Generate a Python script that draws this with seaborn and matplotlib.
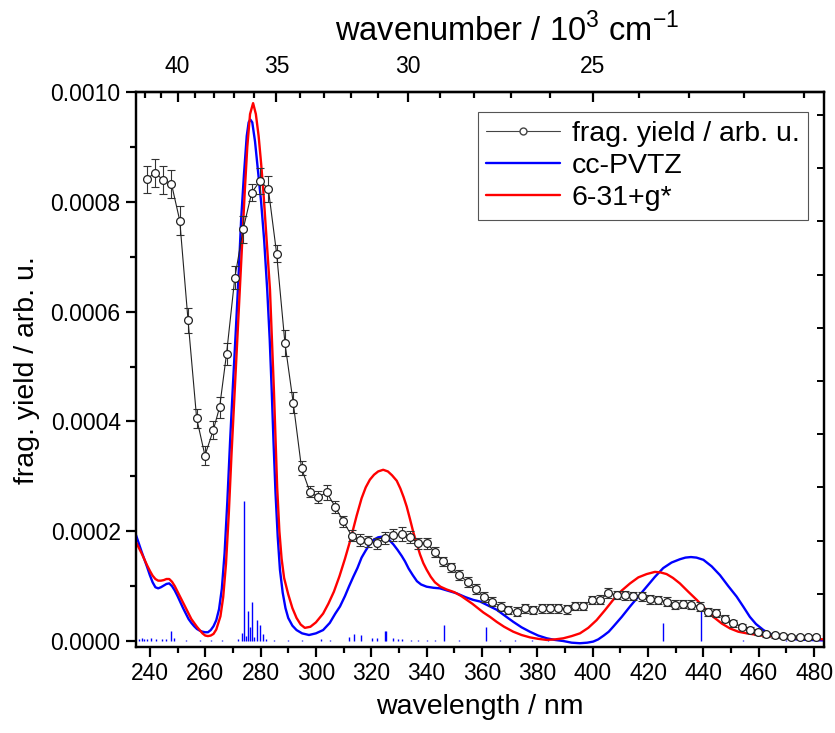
import matplotlib
matplotlib.use("Agg")
import matplotlib.pyplot as plt
import seaborn as sns
import numpy as np
from matplotlib.ticker import MultipleLocator, FixedLocator, FormatStrFormatter, NullFormatter, NullLocator
from matplotlib.lines import Line2D

# ---------------- data ----------------
exp_wl = [238.8, 241.8, 244.8, 247.8, 250.8, 253.8, 256.9, 259.9, 262.9, 265.2,
          267.7, 270.7, 273.7, 276.8, 279.8, 282.8, 285.8, 288.8, 291.8, 294.8,
          297.8, 300.8, 303.9, 306.9, 309.9, 312.9, 315.9, 318.9, 321.9, 324.9,
          327.9, 331.0, 334.0, 337.0, 340.0, 343.0, 345.8, 348.8, 351.8, 354.8,
          357.8, 360.8, 363.8, 366.8, 369.5, 372.5, 375.5, 378.5, 381.6, 384.6,
          387.6, 390.6, 393.6, 396.6, 399.6, 402.6, 405.7, 408.7, 411.7, 414.7,
          417.7, 420.7, 423.7, 426.7, 429.7, 432.7, 435.7, 438.7, 441.7, 444.7,
          447.7, 450.8, 453.8, 456.8, 459.8, 462.8, 465.8, 468.8, 471.8, 474.8,
          477.8, 480.8]
exp_yield = [0.000841, 0.000853, 0.000840, 0.000833, 0.000766, 0.000584, 0.000406, 0.000338, 0.000384, 0.000426,
             0.000523, 0.000662, 0.000750, 0.000817, 0.000838, 0.000824, 0.000706, 0.000543, 0.000434, 0.000315,
             0.000272, 0.000262, 0.000271, 0.000245, 0.000218, 0.000192, 0.000184, 0.000182, 0.000178, 0.000187,
             0.000193, 0.000195, 0.000189, 0.000178, 0.000178, 0.000162, 0.000145, 0.000134, 0.000120, 0.000108,
             0.000095, 0.000080, 0.0000718, 0.0000626, 0.0000566, 0.0000535, 0.0000596, 0.0000566, 0.0000596, 0.0000596,
             0.0000596, 0.0000580, 0.0000639, 0.0000639, 0.0000748, 0.0000755, 0.0000870, 0.0000839, 0.0000830, 0.0000820,
             0.0000815, 0.0000760, 0.0000748, 0.0000718, 0.0000660, 0.0000675, 0.0000660, 0.0000626, 0.0000528, 0.0000517,
             0.0000408, 0.0000322, 0.0000262, 0.0000201, 0.0000164, 0.0000122, 0.0000104, 0.0000091, 0.0000079, 0.0000073,
             0.0000073, 0.0000073]
exp_err = [0.000025, 0.000025, 0.000025, 0.000025, 0.000026, 0.000022, 0.000017, 0.000017, 0.000016, 0.000019,
           0.000020, 0.000021, 0.000025, 0.000016, 0.000024, 0.000024, 0.000016, 0.000024, 0.000019, 0.000013,
           0.000010, 0.000011, 0.000014, 0.000011, 0.000010, 0.000010, 0.000011, 0.000010, 0.000010, 0.000011,
           0.000011, 0.000012, 0.000011, 0.000010, 0.000010, 0.000009, 0.000009, 0.000009, 0.000009, 0.000009,
           0.000009, 0.000009, 0.000008, 0.000008, 0.000008, 0.000008, 0.000008, 0.000008, 0.000008, 0.000008,
           0.000008, 0.000008, 0.000008, 0.000008, 0.000008, 0.000008, 0.000009, 0.000008, 0.000008, 0.000008,
           0.000008, 0.000008, 0.000008, 0.000008, 0.000008, 0.000008, 0.000008, 0.000008, 0.000007, 0.000007,
           0.000006, 0.000006, 0.000005, 0.000005, 0.000005, 0.000004, 0.000004, 0.000004, 0.000004, 0.000004,
           0.000004, 0.000004]

# cc-PVTZ computed spectrum
cc_wl = [235, 236, 237, 238, 239, 240, 241, 242, 243, 244,
         245, 246, 247, 248, 249, 250, 251, 252, 253, 254,
         255, 256, 257, 258, 259, 260, 261, 262, 263, 264,
         265, 266, 267, 268, 269, 270, 271, 272, 273, 274,
         275, 275.7, 276.3, 277, 278, 279, 280.2, 281.3, 282.4, 283.3,
         284, 284.7, 285.4, 286.2, 287, 288, 289, 290, 291.5, 293,
         295, 297.5, 300, 302.6, 305, 307, 308.7, 310.5, 312, 313.5,
         315, 316.5, 318, 319.5, 321, 322.5, 323.8, 325, 326.5, 328,
         329.5, 331, 332.2, 333.5, 335, 336.5, 338, 340, 342.5, 344.8,
         347.5, 350.8, 354, 356.8, 359.3, 362.9, 365.3, 368, 371.3, 374.3,
         377.3, 380.3, 383.4, 386.4, 389.4, 392.4, 395.4, 398, 400.2, 402,
         404, 405.8, 407.4, 410.5, 413.5, 416.5, 419.5, 422.5, 425.5, 428.5,
         431.5, 433.5, 435.5, 437.5, 440, 443, 446, 449, 452, 454.5,
         456.8, 459, 461.7, 464.5, 467.7, 470.5, 473.7, 478, 484]
cc_val = [0.000193, 0.000178, 0.000163, 0.000149, 0.000135, 0.000120, 0.000107, 0.000098, 0.000096, 0.000098,
          0.000101, 0.000104, 0.000105, 0.000100, 0.000092, 0.000082, 0.000071, 0.000060, 0.000050, 0.000040,
          0.000033, 0.000027, 0.000022, 0.000019, 0.000017, 0.000016, 0.000016, 0.000020, 0.000027, 0.000038,
          0.000058, 0.000095, 0.000160, 0.000255, 0.000365, 0.000465, 0.000560, 0.000660, 0.000770, 0.000850,
          0.000920, 0.000945, 0.000950, 0.000945, 0.000910, 0.000860, 0.000800, 0.000730, 0.000640, 0.000550,
          0.000460, 0.000360, 0.000270, 0.000190, 0.000130, 0.000088, 0.000060, 0.000042, 0.000028, 0.000020,
          0.000014, 0.000011, 0.000014, 0.000020, 0.000033, 0.000050, 0.000063, 0.000082, 0.000100, 0.000117,
          0.000133, 0.000152, 0.000165, 0.000177, 0.000185, 0.000189, 0.000190, 0.000189, 0.000184, 0.000176,
          0.000166, 0.000155, 0.000145, 0.000132, 0.000120, 0.000109, 0.000103, 0.000099, 0.000097, 0.000096,
          0.000092, 0.000087, 0.000080, 0.000075, 0.000072, 0.000063, 0.000057, 0.000047, 0.000035, 0.000025,
          0.000017, 0.000010, 0.000005, 0.000002, 0.000000, -0.000003, -0.000004, -0.000003, -0.000001, 0.000003,
          0.000010, 0.000017, 0.000026, 0.000044, 0.000063, 0.000081, 0.000099, 0.000117, 0.000133, 0.000143,
          0.000149, 0.000152, 0.000153, 0.000152, 0.000148, 0.000136, 0.000120, 0.000100, 0.000081, 0.000062,
          0.000044, 0.000031, 0.000020, 0.000012, 0.000008, 0.000005, 0.000003, 0.000002, 0.000001]

# 6-31+g* computed spectrum
g6_wl = [235, 236, 237, 238, 239, 240, 241, 242, 243, 244,
         245, 246, 247, 248, 249, 250, 251, 252, 253, 254,
         255, 256, 257, 258, 259, 260, 261, 262, 263, 264,
         265.5, 266.5, 267.5, 268.5, 269.5, 270.7, 271.6, 272.5, 273.4, 274.3,
         275.2, 276.2, 277.3, 278.3, 279.3, 280.2, 281, 282.2, 283.4, 284.1,
         284.8, 285.4, 286, 286.8, 287.6, 288.5, 290, 291.5, 293, 294.5,
         296, 298, 300, 302.6, 304.5, 306.5, 308.5, 310.5, 312.5, 314.7,
         316.5, 318, 319.5, 321, 322.5, 324.3, 326, 327.5, 329.2, 330.5,
         331.7, 332.8, 334, 335.2, 336.4, 337.6, 338.8, 340, 341.5, 343,
         345, 347.2, 350, 352.5, 354.5, 356.5, 358.5, 360.5, 362.9, 365.3,
         368, 371.3, 374.3, 377.3, 380.3, 383.4, 386.4, 389.4, 392.4, 395.4,
         398.4, 401.4, 404.4, 407.4, 410.5, 413.5, 416.5, 419.5, 422.5, 424.5,
         426.7, 429, 431.5, 434.5, 437.6, 440.6, 443.6, 446.6, 449.6, 452.6,
         455.7, 461, 467.7, 475, 484]
g6_val = [0.000180, 0.000170, 0.000160, 0.000149, 0.000138, 0.000128, 0.000119, 0.000113, 0.000110, 0.000110,
          0.000111, 0.000113, 0.000113, 0.000108, 0.000100, 0.000090, 0.000080, 0.000070, 0.000060, 0.000050,
          0.000040, 0.000033, 0.000026, 0.000020, 0.000014, 0.000010, 0.000009, 0.000010, 0.000013, 0.000021,
          0.000045, 0.000080, 0.000140, 0.000230, 0.000340, 0.000460, 0.000550, 0.000640, 0.000730, 0.000820,
          0.000900, 0.000960, 0.000980, 0.000960, 0.000920, 0.000870, 0.000820, 0.000730, 0.000640, 0.000550,
          0.000460, 0.000370, 0.000280, 0.000200, 0.000150, 0.000115, 0.000085, 0.000060, 0.000042, 0.000030,
          0.000024, 0.000026, 0.000034, 0.000050, 0.000068, 0.000090, 0.000118, 0.000150, 0.000185, 0.000228,
          0.000260, 0.000280, 0.000294, 0.000303, 0.000309, 0.000312, 0.000309, 0.000302, 0.000292, 0.000278,
          0.000262, 0.000245, 0.000222, 0.000198, 0.000178, 0.000158, 0.000142, 0.000130, 0.000117, 0.000107,
          0.000099, 0.000094, 0.000089, 0.000082, 0.000075, 0.000068, 0.000060, 0.000052, 0.000044, 0.000035,
          0.000026, 0.000017, 0.000011, 0.0000067, 0.000004, 0.000002, 0.000003, 0.000005, 0.000009, 0.000014,
          0.000024, 0.000038, 0.000056, 0.000075, 0.000092, 0.000105, 0.000116, 0.000122, 0.000126, 0.000125,
          0.000122, 0.000115, 0.000105, 0.000090, 0.000075, 0.000059, 0.000044, 0.000032, 0.000023, 0.000017,
          0.000014, 0.000010, 0.000008, 0.000005, 0.000003]

stick_wl = [235.9, 237.0, 238.0, 239.0, 240.4, 242.2, 244.5, 246.0, 247.6, 248.8,
            253.0, 258.0, 262.0, 266.0, 272.0, 273.2, 274.1, 274.7, 275.5, 276.1,
            276.8, 277.7, 278.6, 279.8, 281.0, 282.0, 285.0, 290.0, 295.0, 301.8,
            305.0, 311.8, 313.8, 316.3, 320.3, 322.0, 324.8, 325.5, 327.7, 329.6,
            331.0, 334.3, 337.0, 340.0, 343.0, 346.4, 351.8, 361.6, 366.5, 372.0,
            378.0, 384.0, 425.5, 439.1, 454.4, 470.0]
stick_int = [0.000004, 0.000005, 0.000003, 0.000004, 0.000005, 0.000004, 0.000003, 0.000003, 0.000019, 0.000006,
             0.000002, 0.000002, 0.000001, 0.000001, 0.000003, 0.000014, 0.000255, 0.000010, 0.000054, 0.000025,
             0.000072, 0.000008, 0.000038, 0.000030, 0.000012, 0.000003, 0.000001, 0.000001, 0.000001, 0.000003,
             0.000001, 0.000008, 0.000012, 0.000011, 0.000005, 0.000005, 0.000018, 0.000019, 0.000005, 0.000004,
             0.000004, 0.000002, 0.000002, 0.000002, 0.000002, 0.000030, 0.000002, 0.000025, 0.000002, 0.000001,
             0.000002, 0.000001, 0.000032, 0.000060, 0.000002, 0.000001]

y_ticks = [0.0000, 0.0002, 0.0004, 0.0006, 0.0008, 0.0010]
x_ticks = [240, 260, 280, 300, 320, 340, 360, 380, 400, 420, 440, 460, 480]
wn_major = [40, 35, 30, 25]
wn_minor = [42, 41, 39, 38, 37, 36, 34, 33, 32, 31, 29, 28, 27, 26, 24, 23, 22, 21]

# ---------------- plot ----------------
sns.set_theme(style="ticks")
plt.rcParams['font.family'] = ['Liberation Sans', 'DejaVu Sans']
for k in ['text.color', 'axes.labelcolor', 'xtick.color', 'ytick.color', 'axes.edgecolor']:
    plt.rcParams[k] = 'black'
plt.rcParams['axes.linewidth'] = 1.6

fig = plt.figure(figsize=(8.35, 7.33), dpi=100)
ax = fig.add_axes([0.1629, 0.1173, 0.824, 0.757])

BLUE = "#0000FF"
RED = "#FF0000"

ax.vlines(stick_wl, 0, stick_int, color=BLUE, lw=1.0, zorder=2)

sns.lineplot(x=cc_wl, y=cc_val, ax=ax, color=BLUE, lw=1.7, sort=False, estimator=None, zorder=3)
sns.lineplot(x=g6_wl, y=g6_val, ax=ax, color=RED, lw=1.7, sort=False, estimator=None, zorder=4)

ax.errorbar(exp_wl, exp_yield, yerr=exp_err, fmt='none', ecolor='#333333', elinewidth=0.8,
            capsize=3.2, capthick=0.8, zorder=5)
sns.lineplot(x=exp_wl, y=exp_yield, ax=ax, color='#222222', lw=0.8, sort=False, estimator=None,
             marker='o', markersize=5.6, markerfacecolor='white', markeredgecolor='#222222',
             markeredgewidth=0.9, zorder=6)

ax.set_xlim(235, 483.6)
ax.set_ylim(-0.0000109, 0.0010)
ax.set_xticks(x_ticks)
ax.xaxis.set_minor_locator(MultipleLocator(10))
ax.set_yticks(y_ticks)
ax.yaxis.set_minor_locator(MultipleLocator(0.0001))
ax.yaxis.set_major_formatter(FormatStrFormatter('%.4f'))
ax.tick_params(axis='both', which='major', direction='out', length=7, width=1.6, labelsize=16.5, pad=4)
ax.tick_params(axis='both', which='minor', direction='out', length=4, width=1.6)
ax.tick_params(top=False, right=False, which='both')

ax.set_xlabel("wavelength / nm", fontsize=20.5, labelpad=6)
ax.set_ylabel("frag. yield / arb. u.", fontsize=20.5, labelpad=8)

# right spine: inward ticks of an unlabeled secondary scale
axr = ax.twinx()
axr.set_ylim(0, 1)
axr.yaxis.set_major_locator(FixedLocator([0.0959 * k for k in range(1, 11)]))
axr.yaxis.set_minor_locator(NullLocator())
axr.tick_params(axis='y', which='major', direction='in', length=5, width=1.4, labelright=False)
axr.grid(False)

# top wavenumber axis
top = ax.secondary_xaxis('top', functions=(lambda x: 1e4 / np.asarray(x, dtype=float),
                                            lambda x: 1e4 / np.asarray(x, dtype=float)))
top.xaxis.set_major_locator(FixedLocator(wn_major))
top.xaxis.set_minor_locator(FixedLocator(wn_minor))
top.xaxis.set_minor_formatter(NullFormatter())
top.tick_params(axis='x', which='major', direction='in', length=7, width=1.6, labelsize=16.5, pad=10)
top.tick_params(axis='x', which='minor', direction='in', length=4, width=1.6)
top.set_xlabel("wavenumber / 10$^{\\mathregular{3}}$ cm$^{\\mathregular{-1}}$", fontsize=23.5,
               labelpad=10, x=0.54)

for s in ax.spines.values():
    s.set_linewidth(1.6)
    s.set_color('black')

handles = [
    Line2D([0], [0], color='#444444', lw=0.8, marker='o', markersize=5, markerfacecolor='white',
           markeredgecolor='#444444'),
    Line2D([0], [0], color=BLUE, lw=1.7),
    Line2D([0], [0], color=RED, lw=1.7),
]
labels = ["frag. yield / arb. u.", "cc-PVTZ", "6-31+g*"]
leg = ax.legend(handles, labels, loc='upper right', bbox_to_anchor=(0.977, 0.964),
                fontsize=20.5, frameon=True, fancybox=False, framealpha=1, edgecolor='#555555',
                handlelength=2.6, handletextpad=0.4, labelspacing=0.22, borderpad=0.3,
                borderaxespad=0.0)
leg.get_frame().set_linewidth(0.8)

fig.savefig("out.png", dpi=100)
